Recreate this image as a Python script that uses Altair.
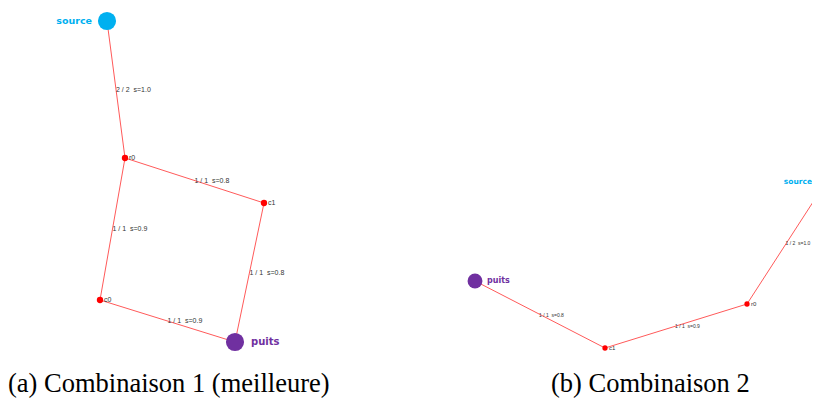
import altair as alt
import pandas as pd

# ---- data (layout coordinates of the network drawings) ----
node_names_a = ["source", "r0", "c1", "c0", "puits"]
node_x_a = [107, 125, 264, 100, 235]
node_y_a = [21, 158, 203, 300, 342]

node_names_b = ["source", "r0", "c1", "puits"]
node_x_b = [826, 747, 605, 475]
node_y_b = [182, 304, 348, 281]

edges_a_from = ["source", "r0", "r0", "c1", "c0"]
edges_a_to = ["r0", "c1", "c0", "puits", "puits"]
edges_a_label = ["2 / 2  s=1.0", "1 / 1  s=0.8", "1 / 1  s=0.9", "1 / 1  s=0.8", "1 / 1  s=0.9"]

edges_b_from = ["source", "r0", "c1"]
edges_b_to = ["r0", "c1", "puits"]
edges_b_label = ["1 / 2  s=1.0", "1 / 1  s=0.9", "1 / 1  s=0.8"]

captions = ["(a) Combinaison 1 (meilleure)", "(b) Combinaison 2"]
caption_x = [8, 551]
caption_y = [392, 392]

CYAN = "#00b0f0"
PURPLE = "#7030a0"
EDGE = "#ff5a5a"
DOT = "#ff0000"

W, H = 804, 391


def nodes_df(names, xs, ys):
    return pd.DataFrame({"name": names, "x": xs, "y": ys})


def edges_df(nodes, frm, to, labels):
    pos = nodes.set_index("name")
    rows = []
    for f, t, l in zip(frm, to, labels):
        x1, y1 = pos.loc[f, "x"], pos.loc[f, "y"]
        x2, y2 = pos.loc[t, "x"], pos.loc[t, "y"]
        rows.append({"x": x1, "y": y1, "x2": x2, "y2": y2,
                     "mx": (x1 + x2) / 2, "my": (y1 + y2) / 2,
                     # keep the double space visible in SVG text
                     "label": l.replace("  ", "\u00a0\u00a0")})
    return pd.DataFrame(rows)


na = nodes_df(node_names_a, node_x_a, node_y_a)
nb = nodes_df(node_names_b, node_x_b, node_y_b)
ea = edges_df(na, edges_a_from, edges_a_to, edges_a_label)
eb = edges_df(nb, edges_b_from, edges_b_to, edges_b_label)
cap = pd.DataFrame({"text": captions, "x": caption_x, "y": caption_y})

X = lambda f="x": alt.X(f"{f}:Q", scale=alt.Scale(domain=[8, 8 + W], nice=False, zero=False), axis=None)
Y = lambda f="y": alt.Y(f"{f}:Q", scale=alt.Scale(domain=[8, 8 + H], nice=False, zero=False, reverse=True), axis=None)


def panel(nodes, edges, big, small_dot, node_fs, lab_fs, edge_fs, src_dx, puits_dx, edge_dx):
    rules = alt.Chart(edges).mark_rule(color=EDGE, strokeWidth=1).encode(
        x=X(), y=Y(), x2="x2:Q", y2="y2:Q")
    elabels = alt.Chart(edges).mark_text(align="left", baseline="middle", fontSize=edge_fs, dx=edge_dx,
                                         font="Liberation Sans", color="#333333").encode(
        x=X("mx"), y=Y("my"), text="label:N")
    inner = nodes[~nodes["name"].isin(["source", "puits"])]
    dots = alt.Chart(inner).mark_circle(color=DOT, opacity=1, size=small_dot).encode(x=X(), y=Y())
    dlabels = alt.Chart(inner).mark_text(align="left", baseline="middle", dx=4, fontSize=lab_fs,
                                         font="Liberation Sans", color="#333333").encode(
        x=X(), y=Y(), text="name:N")
    src = nodes[nodes["name"] == "source"]
    pui = nodes[nodes["name"] == "puits"]
    src_c = alt.Chart(src).mark_circle(color=CYAN, opacity=1, size=big).encode(x=X(), y=Y())
    src_t = alt.Chart(src).mark_text(align="right", baseline="middle", dx=src_dx, fontSize=node_fs - 0.5,
                                     fontWeight="bold", font="DejaVu Sans", color=CYAN).encode(
        x=X(), y=Y(), text="name:N")
    pui_c = alt.Chart(pui).mark_circle(color=PURPLE, opacity=1, size=big).encode(x=X(), y=Y())
    pui_t = alt.Chart(pui).mark_text(align="left", baseline="middle", dx=puits_dx, fontSize=node_fs,
                                     fontWeight="bold", font="DejaVu Sans", color=PURPLE).encode(
        x=X(), y=Y(), text="name:N")
    return [rules, elabels, dots, dlabels, src_c, src_t, pui_c, pui_t]


layers = (panel(na, ea, 330, 40, 10, 7, 7, -15, 16, 0)
          + panel(nb, eb, 220, 28, 8, 6, 5, -14, 12, -1))

caps = alt.Chart(cap).mark_text(align="left", baseline="alphabetic", fontSize=26.5,
                                font="Liberation Serif", color="#000000").encode(
    x=X(), y=Y(), text="text:N")

chart = alt.layer(*layers, caps).properties(
    width=W, height=H,
    autosize=alt.AutoSizeParams(type="none"),
    padding=0,
).configure_view(stroke=None)

chart.save("out.html", embed_options={"renderer": "svg", "actions": False})
